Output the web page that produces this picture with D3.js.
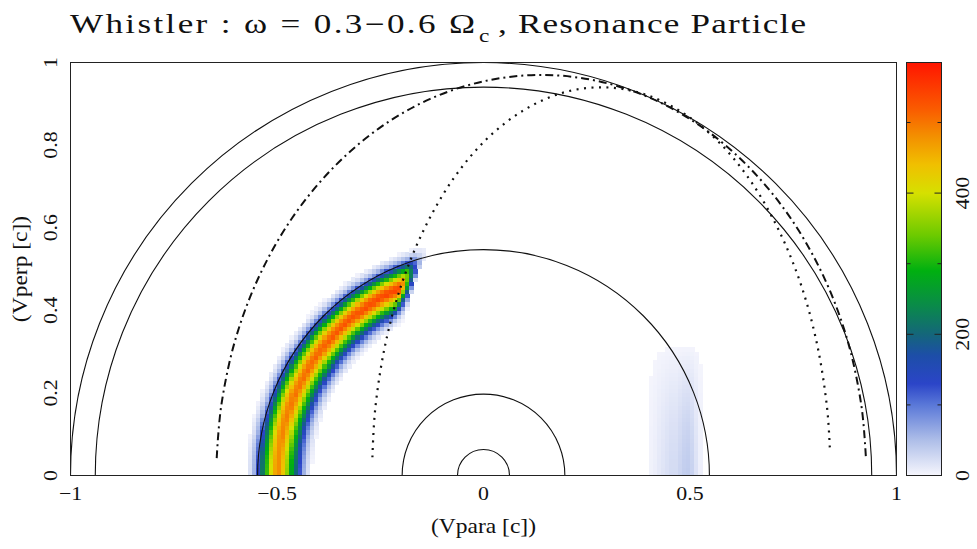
<!DOCTYPE html>
<html>
<head>
<meta charset="utf-8">
<script src="https://cdn.jsdelivr.net/npm/d3@7"></script>
<style>
  body { margin: 0; background: #fff; }
  text { font-family: "Liberation Serif", "DejaVu Serif", serif; fill: #111; }
</style>
</head>
<body>
<script>

// solid circles |v| = const, radii (units of c)
const circleRadii = [0.063, 0.197, 0.547, 0.94, 1.0];

// resonance curves, points: [vpara, vperp]
const dashDotCurve = [
  [-0.646, 0.042], [-0.635, 0.169], [-0.600, 0.332], [-0.542, 0.485],
  [-0.463, 0.624], [-0.366, 0.743], [-0.254, 0.840], [-0.129, 0.912],
  [0.003, 0.955], [0.140, 0.970], [0.277, 0.955], [0.409, 0.912],
  [0.534, 0.840], [0.646, 0.743], [0.743, 0.624], [0.822, 0.485],
  [0.880, 0.332], [0.915, 0.169], [0.926, 0.042]
];
const dottedCurve = [
  [-0.269, 0.044], [-0.262, 0.163], [-0.237, 0.321], [-0.196, 0.470],
  [-0.140, 0.604], [-0.072, 0.720], [0.007, 0.814], [0.095, 0.883],
  [0.189, 0.926], [0.285, 0.940], [0.381, 0.926], [0.475, 0.883],
  [0.563, 0.814], [0.642, 0.720], [0.710, 0.604], [0.766, 0.470],
  [0.807, 0.321], [0.832, 0.163], [0.839, 0.057]
];

// resonant particle band: ridge radius, peak counts vs angle (deg from +vpara)
const bandRidge = 0.495;
const bandAngles = [105, 115, 125, 135, 145, 155, 165, 175, 180];
const bandPeak   = [530, 545, 535, 525, 515, 505, 495, 485, 480];
// fraction of the peak across the band (offset from the ridge, c)
const bandOffsets = [-0.08, -0.07, -0.06, -0.05, -0.04, -0.03, -0.02, -0.01, 0,
                     0.01, 0.02, 0.03, 0.04, 0.05, 0.06, 0.07, 0.08];
const bandProfile = [0, 0.04, 0.12, 0.25, 0.41, 0.58, 0.75, 0.9, 1.0,
                     0.96, 0.84, 0.66, 0.46, 0.27, 0.12, 0.04, 0];

// faint patch around vpara ~ 0.45
const patchX      = [0.40, 0.41, 0.42, 0.43, 0.44, 0.45, 0.46, 0.47, 0.48, 0.49, 0.50, 0.51, 0.52];
const patchCounts = [4, 7, 12, 16, 20, 24, 24, 30, 36, 38, 32, 18, 6];
const patchY      = [0, 0.04, 0.08, 0.12, 0.16, 0.20, 0.24, 0.28, 0.32];
const patchShape  = [1, 0.95, 0.88, 0.78, 0.66, 0.52, 0.36, 0.2, 0];

// colour table
const colorStops = [0, 50, 100, 130, 170, 200, 240, 290, 340, 400, 440, 480, 520, 585];
const colorHex = ["#f6f6fd", "#aebee8", "#5a78d8", "#2b45c8", "#1d4ea8", "#14667a",
                  "#0a8a4a", "#00b010", "#6cca00", "#d6e000", "#f0c000", "#f39000",
                  "#fa5a00", "#ff1500"];
const cbTicks = [100, 200, 300, 400, 500];
const cbLabels = [0, 200, 400];
const xTicks = [-1, -0.5, 0, 0.5, 1];
const yTicks = [0, 0.2, 0.4, 0.6, 0.8, 1];

const width = 977, height = 549;

const x = d3.scaleLinear().domain([-1, 1]).range([70.5, 896.5]);
const y = d3.scaleLinear().domain([0, 1]).range([475.5, 62.5]);
const color = d3.scaleLinear().domain(colorStops).range(colorHex).clamp(true);
const cbY = d3.scaleLinear().domain([0, 585]).range([475.5, 62.5]);

const svg = d3.select("body").append("svg")
  .attr("width", width).attr("height", height);

svg.append("clipPath").attr("id", "plotClip")
  .append("rect")
  .attr("x", x(-1)).attr("y", y(1))
  .attr("width", x(1) - x(-1)).attr("height", y(0) - y(1));

const plot = svg.append("g").attr("clip-path", "url(#plotClip)");

// ---- heat map
const peakAt = d3.scaleLinear().domain(bandAngles).range(bandPeak).clamp(true);
const profileAt = d3.scaleLinear().domain(bandOffsets).range(bandProfile).clamp(true);
const leftDotted = dottedCurve.slice(0, 10);
const dottedXAt = d3.scaleLinear().domain(leftDotted.map(d => d[1])).range(leftDotted.map(d => d[0]));
const patchShapeAt = d3.scaleLinear().domain(patchY).range(patchShape).clamp(true);

const step = 0.01;
const cells = [];
d3.range(-100, 100).forEach(i => {
  d3.range(0, 100).forEach(j => {
    const vx = i * step, vy = j * step;
    const cx = vx + step / 2, cy = vy + step / 2;
    let v = 0;
    const r = Math.hypot(cx, cy);
    const ang = Math.atan2(cy, cx) * 180 / Math.PI;
    if (cx < 0 && ang > 100) {
      let b = peakAt(ang) * profileAt(r - bandRidge);
      const dx = dottedXAt(Math.min(cy, 0.94));
      if (cx > dx) b *= Math.max(0, 1 - (cx - dx) / 0.03);
      v += b;
    }
    const k = patchX.indexOf(+vx.toFixed(2));
    if (k >= 0) v += patchCounts[k] * patchShapeAt(cy);
    if (v > 1.5) cells.push({vx, vy, v});
  });
});

plot.append("g")
  .attr("shape-rendering", "crispEdges")
  .selectAll("rect")
  .data(cells)
  .join("rect")
  .attr("x", d => x(d.vx))
  .attr("y", d => y(d.vy + step))
  .attr("width", x(step) - x(0) + 0.4)
  .attr("height", y(0) - y(step) + 0.4)
  .attr("fill", d => color(d.v));

// ---- circles
plot.append("g")
  .selectAll("path")
  .data(circleRadii)
  .join("path")
  .attr("d", r => {
    const p = d3.path();
    p.arc(x(0), y(0), x(r) - x(0), Math.PI, 2 * Math.PI);
    return p.toString();
  })
  .attr("fill", "none")
  .attr("stroke", "#111")
  .attr("stroke-width", 1.1);

// ---- resonance curves
const line = d3.line().x(d => x(d[0])).y(d => y(d[1])).curve(d3.curveCatmullRom);

plot.append("path")
  .attr("d", line(dashDotCurve))
  .attr("fill", "none")
  .attr("stroke", "#111")
  .attr("stroke-width", 2)
  .attr("stroke-dasharray", "8,4,2,4");

plot.append("path")
  .attr("d", line(dottedCurve))
  .attr("fill", "none")
  .attr("stroke", "#111")
  .attr("stroke-width", 2.2)
  .attr("stroke-dasharray", "2,5.5");

// ---- frame
svg.append("rect")
  .attr("x", x(-1)).attr("y", y(1))
  .attr("width", x(1) - x(-1)).attr("height", y(0) - y(1))
  .attr("fill", "none").attr("stroke", "#222").attr("stroke-width", 1);

// ---- tick labels
const fmt = d => (d < 0 ? "\u2212" : "") + String(Math.abs(d));
svg.append("g").selectAll("text")
  .data(xTicks).join("text")
  .attr("transform", d => `translate(${x(d)},500) scale(1.15,1)`)
  .attr("text-anchor", "middle")
  .attr("font-size", 19)
  .text(fmt);

svg.append("g").selectAll("text")
  .data(yTicks).join("text")
  .attr("transform", d => `translate(57,${y(d)}) rotate(-90) scale(1.15,1)`)
  .attr("text-anchor", "middle")
  .attr("font-size", 19)
  .text(fmt);

svg.append("text")
  .attr("transform", `translate(${x(0)},533) scale(1.12,1)`)
  .attr("text-anchor", "middle")
  .attr("font-size", 21)
  .text("(Vpara [c])");

svg.append("text")
  .attr("transform", `translate(27,${(y(0) + y(1)) / 2}) rotate(-90) scale(1.12,1)`)
  .attr("text-anchor", "middle")
  .attr("font-size", 21)
  .text("(Vperp [c])");

// ---- title
const sx = 1.3;
svg.append("text")
  .attr("transform", `translate(70,33) scale(${sx},1)`)
  .attr("font-size", 27)
  .attr("textLength", 405 / sx).attr("lengthAdjust", "spacing")
  .text("Whistler : \u03c9 = 0.3\u22120.6 \u03a9");
svg.append("text")
  .attr("transform", `translate(479,42) scale(${sx},1)`)
  .attr("font-size", 18)
  .text("c");
svg.append("text")
  .attr("transform", `translate(498,33) scale(${sx},1)`)
  .attr("font-size", 27)
  .attr("textLength", 308 / sx).attr("lengthAdjust", "spacing")
  .text(", Resonance Particle");

// ---- colour bar
const grad = svg.append("defs").append("linearGradient")
  .attr("id", "cbGrad")
  .attr("x1", 0).attr("y1", 1).attr("x2", 0).attr("y2", 0);
grad.selectAll("stop")
  .data(colorStops).join("stop")
  .attr("offset", d => d / 585)
  .attr("stop-color", d => color(d));

const cbX0 = 906.5, cbX1 = 941.5;
svg.append("rect")
  .attr("x", cbX0).attr("y", cbY(585))
  .attr("width", cbX1 - cbX0).attr("height", cbY(0) - cbY(585))
  .attr("fill", "url(#cbGrad)")
  .attr("stroke", "#222").attr("stroke-width", 1);

svg.append("g").selectAll("path")
  .data(cbTicks).join("path")
  .attr("d", d => {
    const len = d % 200 === 0 ? 7 : 4;
    return `M${cbX0},${cbY(d)}h${len}M${cbX1},${cbY(d)}h${-len}`;
  })
  .attr("stroke", "#222").attr("stroke-width", 1);

svg.append("g").selectAll("text")
  .data(cbLabels).join("text")
  .attr("transform", d => `translate(969,${cbY(d)}) rotate(-90) scale(1.15,1)`)
  .attr("text-anchor", "middle")
  .attr("font-size", 19)
  .text(d => d);

</script>
</body>
</html>
